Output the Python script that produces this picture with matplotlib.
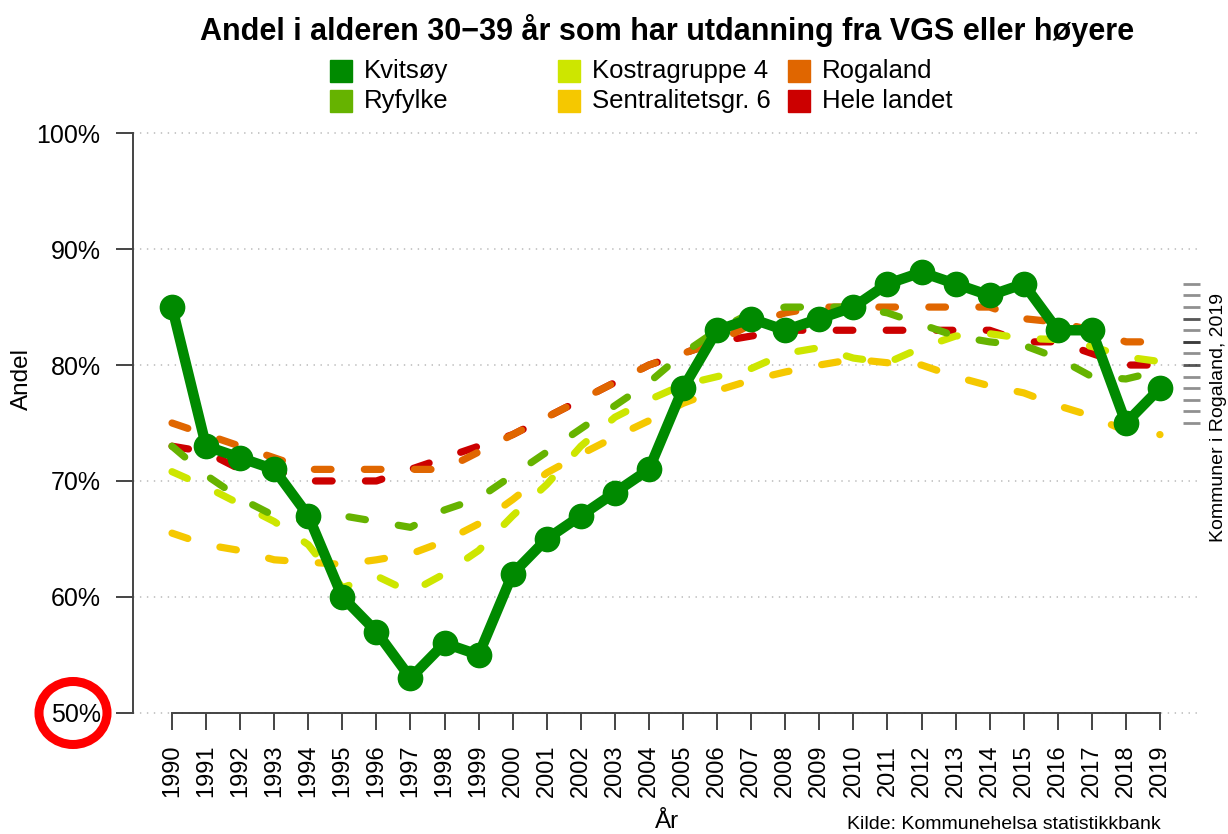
import matplotlib
matplotlib.use("Agg")
import matplotlib.pyplot as plt
from matplotlib.patches import Ellipse, Rectangle

plt.rcParams['font.family'] = ['Liberation Sans', 'DejaVu Sans']
plt.rcParams['lines.scale_dashes'] = False

years = list(range(1990, 2020))

kvitsoy = [85, 73, 72, 71, 67, 60, 57, 53, 56, 55, 62, 65, 67, 69, 71,
           78, 83, 84, 83, 84, 85, 87, 88, 87, 86, 87, 83, 83, 75, 78]
ryfylke = [73, 70.5, 68.5, 67, 66.5, 67, 66.5, 66, 67.5, 68.5, 70.5, 72.5, 74.5, 76.5, 78.5,
           81, 83, 84.5, 85, 85, 85, 84.5, 83.5, 82.5, 82, 81.7, 80.6, 79, 78.8, 79.5]
kostra4 = [70.8, 69.5, 68, 66.5, 64.5, 60.8, 61.8, 60.4, 62, 64, 67, 69.7, 73, 75.5, 77,
           78.3, 79, 79.7, 81, 81.5, 80.6, 80.2, 81.5, 82.5, 82.7, 82.3, 82.2, 81.6, 80.7, 80.3]
sentral6 = [65.5, 64.5, 64, 63.2, 63, 62.8, 63.2, 63.7, 64.8, 66.3, 68.4, 70.7, 72.3, 73.8, 75.2,
            76.7, 77.8, 78.7, 79.4, 80, 80.5, 80.2, 80, 79, 78.2, 77.6, 76.5, 75.6, 74.3, 74]
rogaland = [75, 74, 73, 72, 71, 71, 71, 71, 71, 72.5, 74, 75.5, 77, 78.5, 80,
            81, 82, 83.5, 84.5, 85, 85, 85, 85, 85, 85, 84, 83.7, 83, 82, 82]
hele_landet = [73, 72.5, 71, 71, 70, 70, 70, 71, 72, 73, 74, 75.5, 77, 78.5, 80,
               81, 82, 82.5, 83, 83, 83, 83, 83, 83, 83, 82, 82, 81, 80, 80]

names = ["Kvitsøy", "Ryfylke", "Kostragruppe 4", "Sentralitetsgr. 6", "Rogaland", "Hele landet"]
colors = ["#008a00", "#66b300", "#cde600", "#f5c800", "#e06600", "#cc0000"]
series = [kvitsoy, ryfylke, kostra4, sentral6, rogaland, hele_landet]

# andre kommuner i Rogaland 2019 (strek-rug til høyre)
rug_values = [87, 86, 85, 84, 84, 83, 82, 82, 82, 81, 80, 80, 79, 78, 77, 76, 75]

yticks = [50, 60, 70, 80, 90, 100]
ytick_labels = ["50%", "60%", "70%", "80%", "90%", "100%"]

fig = plt.figure(figsize=(12.28, 8.34), dpi=100)
ax = fig.add_axes([0.1079, 0.1175, 0.8689, 0.7506])
ax.set_xlim(1990 - 1.16, 2019 + 1.16)
ax.set_ylim(48, 102)

for y in yticks:
    ax.axhline(y, color="#c4c4c4", lw=1.3, ls=(0, (1, 4)), zorder=0)

# stiplede linjer, tegnet bakfra
for i in range(len(series) - 1, 0, -1):
    ax.plot(years, series[i], color=colors[i], lw=5.2, dashes=(12, 24),
            dash_capstyle="round", zorder=2)
ax.plot(years, kvitsoy, color=colors[0], lw=7.5, marker="o", ms=17.5,
        solid_capstyle="round", zorder=3)

ax.hlines(rug_values, 2019.67, 2020.17, colors="#222222", alpha=0.5, lw=2, clip_on=False)

for s in ["top", "right"]:
    ax.spines[s].set_visible(False)
ax.spines["left"].set_bounds(50, 100)
ax.spines["bottom"].set_position(("data", 50))
ax.spines["bottom"].set_bounds(1990, 2019)
ax.spines["left"].set_color("#444444")
ax.spines["bottom"].set_color("#444444")
ax.spines["left"].set_linewidth(1.4)
ax.spines["bottom"].set_linewidth(1.4)

ax.set_yticks(yticks)
ax.set_yticklabels(ytick_labels)
ax.set_xticks(years)
ax.set_xticklabels([str(y) for y in years], rotation=90)
ax.tick_params(axis="y", length=12, width=1.4, color="#444444", labelsize=18, pad=11)
ax.tick_params(axis="x", length=12, width=1.4, color="#444444", labelsize=17, pad=11)

fig.text(0.018, 0.545, "Andel", rotation=90, fontsize=17.5, ha="center", va="center")
fig.text(0.543, 0.014, "År", fontsize=17.5, ha="center", va="center")
fig.text(0.945, 0.011, "Kilde: Kommunehelsa statistikkbank", fontsize=14,
         ha="right", va="center")
fig.text(0.992, 0.50, "Kommuner i Rogaland, 2019", rotation=90, fontsize=14,
         ha="center", va="center")
fig.text(0.543, 0.963, "Andel i alderen 30\u221239 år som har utdanning fra VGS eller høyere",
         fontsize=22, fontweight="bold", ha="center", va="center")

# legende
col_x = [330, 558, 788]
row_y = [71, 101]
for i, name in enumerate(names):
    cx = col_x[i // 2]
    cy = row_y[i % 2]
    fig.patches.append(Rectangle((cx / 1228, 1 - (cy + 11) / 834), 22 / 1228, 22 / 834,
                                 transform=fig.transFigure, color=colors[i]))
    fig.text((cx + 34) / 1228, 1 - cy / 834, name, fontsize=18.5, ha="left", va="center")

fig.patches.append(Ellipse((73 / 1228, 1 - 713 / 834), 68 / 1228, 63 / 834,
                           transform=fig.transFigure, fill=False, ec="#ff0000", lw=6.5))

fig.savefig("out.png", dpi=100)
